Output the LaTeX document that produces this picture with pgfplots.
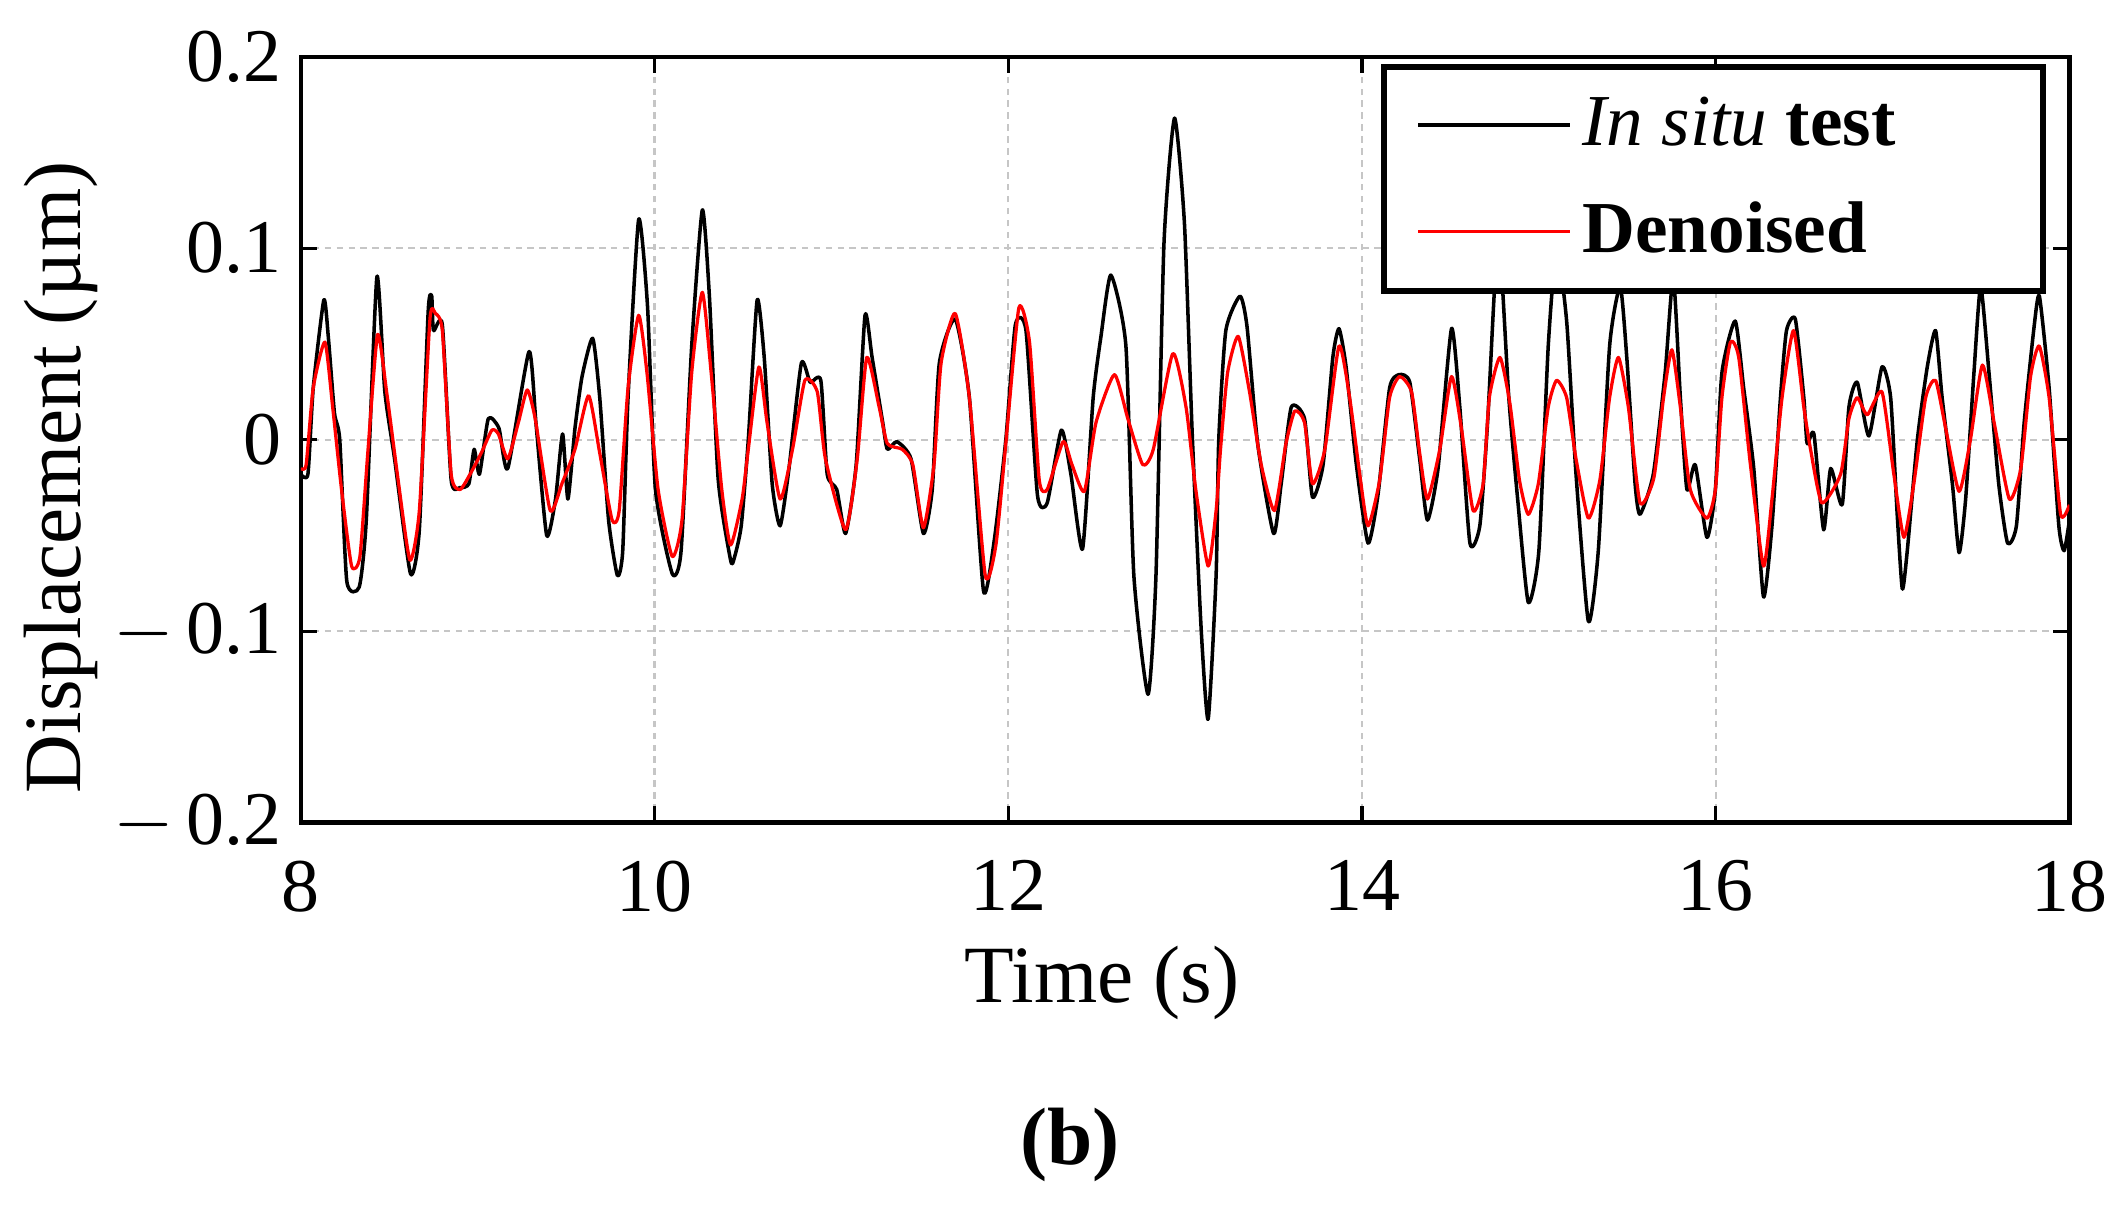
\documentclass[border=0pt]{standalone}
\usepackage{fontspec}
\setmainfont{Liberation Serif}
\usepackage{pgfplots}
\pgfplotsset{compat=1.18}
\begin{document}
\begin{tikzpicture}
\begin{axis}[
  scale only axis,
  width=326.25pt, height=141.25pt,
  xmin=8, xmax=18, ymin=-0.2, ymax=0.2,
  xtick={8,10,12,14,16,18},
  xticklabels={8,10,12,14,16,18},
  ytick={-0.2,-0.1,0,0.1,0.2},
  yticklabels={$-$\,0.2,$-$\,0.1,0,0.1,0.2},
  tick label style={font=\fontsize{14}{16}\selectfont},
  xticklabel style={yshift=-3.5pt},
  major tick length=3pt,
  tick align=inside,
  tick style={black, line width=0.6pt},
  axis line style={line width=0.8pt},
  grid=major,
  grid style={gray!45, line width=0.4pt, dash pattern=on 1.2pt off 1pt},
  xlabel={Time (s)},
  ylabel={Displacement (µm)},
  label style={font=\fontsize{15}{17}\selectfont},
  xlabel style={at={(axis description cs:0.453,-0.209)}, anchor=center},
  ylabel style={at={(axis description cs:-0.1356,0.451)}, anchor=center, rotate=0},
  legend image code/.code={\draw[#1, line width=0.6pt] (0pt,0pt) -- (28pt,0pt);},
  legend style={at={(0.987,0.991)}, anchor=north east, draw=black, line width=1.2pt,
    inner xsep=6pt, inner ysep=3.5pt, row sep=5pt, fill=white,
    font=\fontsize{13.5}{15}\selectfont, cells={anchor=west}},
]
\addplot[black, line width=0.65pt, line join=round, smooth, tension=0.35] coordinates {
(8.00,-0.018)(8.04,-0.018)(8.07,0.027)(8.13,0.073)(8.155,0.054)(8.19,0.014)(8.22,0.000)
(8.26,-0.074)(8.33,-0.077)(8.37,-0.042)(8.43,0.085)(8.475,0.025)(8.53,-0.010)(8.62,-0.070)
(8.67,-0.047)(8.72,0.067)(8.74,0.075)(8.75,0.057)(8.80,0.060)(8.85,-0.021)(8.90,-0.025)
(8.95,-0.023)(8.98,-0.005)(9.01,-0.018)(9.06,0.011)(9.12,0.006)(9.17,-0.015)(9.29,0.046)
(9.33,0.008)(9.39,-0.050)(9.44,-0.031)(9.48,0.003)(9.51,-0.031)(9.55,0.006)(9.59,0.033)
(9.65,0.053)(9.69,0.022)(9.74,-0.042)(9.79,-0.071)(9.82,-0.058)(9.85,0.022)(9.91,0.115)
(9.96,0.070)(10.005,-0.026)(10.10,-0.070)(10.15,-0.058)(10.21,0.049)(10.27,0.120)(10.31,0.075)
(10.36,-0.021)(10.43,-0.063)(10.45,-0.062)(10.49,-0.045)(10.53,0.000)(10.58,0.073)(10.62,0.043)
(10.665,-0.023)(10.71,-0.045)(10.76,-0.015)(10.83,0.040)(10.88,0.030)(10.94,0.031)(10.976,-0.018)
(11.03,-0.026)(11.08,-0.049)(11.14,-0.013)(11.19,0.065)(11.23,0.043)(11.29,0.009)(11.316,-0.005)
(11.37,-0.001)(11.45,-0.010)(11.52,-0.049)(11.57,-0.026)(11.61,0.040)(11.70,0.063)(11.78,0.022)
(11.86,-0.079)(11.92,-0.053)(11.986,0.000)(12.04,0.060)(12.10,0.057)(12.165,-0.029)(12.22,-0.033)
(12.30,0.005)(12.354,-0.018)(12.42,-0.057)(12.48,0.022)(12.524,0.054)(12.58,0.086)(12.665,0.049)
(12.71,-0.071)(12.79,-0.133)(12.835,-0.071)(12.88,0.102)(12.94,0.168)(12.996,0.113)(13.04,0.003)
(13.09,-0.098)(13.13,-0.146)(13.175,-0.071)(13.19,0.000)(13.23,0.057)(13.31,0.075)(13.35,0.059)
(13.41,-0.002)(13.50,-0.049)(13.543,-0.023)(13.60,0.017)(13.675,0.011)(13.72,-0.030)(13.78,-0.013)
(13.835,0.043)(13.87,0.058)(13.91,0.038)(13.968,-0.013)(14.034,-0.054)(14.09,-0.029)(14.156,0.027)
(14.21,0.034)(14.27,0.030)(14.326,-0.010)(14.37,-0.042)(14.43,-0.015)(14.506,0.058)(14.553,0.017)
(14.61,-0.054)(14.666,-0.045)(14.71,0.009)(14.75,0.080)(14.78,0.100)(14.83,0.022)(14.88,-0.031)
(14.94,-0.085)(15.00,-0.058)(15.053,0.049)(15.10,0.100)(15.157,0.062)(15.21,-0.018)(15.28,-0.095)
(15.336,-0.058)(15.40,0.049)(15.46,0.080)(15.497,0.043)(15.544,-0.023)(15.572,-0.039)(15.647,-0.018)
(15.714,0.035)(15.76,0.085)(15.80,0.022)(15.837,-0.026)(15.884,-0.013)(15.95,-0.051)(15.998,-0.026)
(16.035,0.035)(16.11,0.062)(16.158,0.027)(16.215,-0.015)(16.27,-0.082)(16.318,-0.045)(16.366,0.022)
(16.40,0.057)(16.45,0.063)(16.498,0.022)(16.517,-0.002)(16.555,0.003)(16.61,-0.047)(16.65,-0.015)
(16.715,-0.034)(16.753,0.017)(16.80,0.030)(16.866,0.002)(16.94,0.038)(16.989,0.022)(17.026,-0.039)
(17.055,-0.078)(17.083,-0.058)(17.14,0.000)(17.196,0.038)(17.243,0.057)(17.28,0.022)(17.338,-0.023)
(17.376,-0.059)(17.413,-0.031)(17.46,0.035)(17.498,0.080)(17.545,0.035)(17.60,-0.023)(17.65,-0.054)
(17.70,-0.045)(17.744,0.009)(17.80,0.059)(17.83,0.075)(17.885,0.027)(17.94,-0.045)(17.97,-0.058)
(18.00,-0.042)
};
\addlegendentry{\makebox[77pt][l]{\textit{In situ} \textbf{test}}}
\addplot[red, line width=0.6pt, line join=round, smooth, tension=0.35] coordinates {
(8.00,-0.015)(8.03,-0.013)(8.07,0.027)(8.136,0.051)(8.18,0.017)(8.23,-0.026)(8.287,-0.066)
(8.334,-0.061)(8.38,-0.005)(8.434,0.055)(8.485,0.025)(8.55,-0.021)(8.617,-0.063)(8.67,-0.037)
(8.73,0.063)(8.76,0.066)(8.80,0.057)(8.85,-0.018)(8.90,-0.026)(8.957,-0.018)(9.02,-0.007)
(9.08,0.005)(9.117,0.003)(9.17,-0.010)(9.23,0.009)(9.28,0.026)(9.325,0.011)(9.41,-0.037)
(9.476,-0.023)(9.55,-0.005)(9.627,0.023)(9.69,-0.007)(9.76,-0.042)(9.80,-0.037)(9.85,0.027)
(9.91,0.065)(9.957,0.035)(10.02,-0.026)(10.10,-0.061)(10.155,-0.042)(10.21,0.035)(10.27,0.077)
(10.32,0.035)(10.38,-0.026)(10.43,-0.055)(10.495,-0.031)(10.53,-0.005)(10.59,0.038)(10.636,0.009)
(10.71,-0.031)(10.78,-0.005)(10.85,0.031)(10.92,0.025)(10.966,-0.010)(11.08,-0.047)(11.146,-0.010)
(11.20,0.043)(11.27,0.017)(11.316,-0.002)(11.40,-0.005)(11.46,-0.013)(11.52,-0.046)(11.58,-0.013)
(11.62,0.040)(11.70,0.066)(11.78,0.022)(11.87,-0.071)(11.93,-0.055)(11.986,-0.002)(12.06,0.069)
(12.12,0.051)(12.175,-0.021)(12.22,-0.026)(12.31,-0.001)(12.36,-0.013)(12.43,-0.027)(12.496,0.009)
(12.60,0.034)(12.676,0.011)(12.76,-0.013)(12.82,-0.005)(12.93,0.045)(13.005,0.017)(13.06,-0.026)
(13.13,-0.066)(13.175,-0.037)(13.20,-0.005)(13.24,0.035)(13.30,0.054)(13.364,0.025)(13.43,-0.013)
(13.505,-0.037)(13.57,-0.002)(13.62,0.015)(13.675,0.009)(13.72,-0.023)(13.79,-0.005)(13.87,0.049)
(13.93,0.022)(13.987,-0.018)(14.034,-0.045)(14.10,-0.021)(14.156,0.022)(14.213,0.033)(14.28,0.025)
(14.326,-0.007)(14.37,-0.031)(14.44,-0.005)(14.506,0.033)(14.562,0.006)(14.628,-0.037)(14.685,-0.023)
(14.72,0.022)(14.78,0.043)(14.836,0.019)(14.89,-0.021)(14.94,-0.039)(14.997,-0.023)(15.053,0.017)
(15.10,0.031)(15.157,0.022)(15.21,-0.010)(15.28,-0.041)(15.345,-0.021)(15.40,0.022)(15.45,0.043)
(15.506,0.017)(15.572,-0.033)(15.65,-0.020)(15.705,0.022)(15.752,0.047)(15.80,0.017)(15.856,-0.026)
(15.95,-0.041)(15.998,-0.026)(16.035,0.022)(16.083,0.051)(16.13,0.043)(16.196,-0.013)(16.27,-0.066)
(16.318,-0.031)(16.375,0.022)(16.44,0.057)(16.498,0.017)(16.536,-0.005)(16.60,-0.033)(16.706,-0.018)
(16.753,0.011)(16.80,0.022)(16.857,0.013)(16.94,0.025)(17.007,-0.018)(17.064,-0.051)(17.12,-0.023)
(17.187,0.022)(17.243,0.031)(17.30,0.006)(17.376,-0.027)(17.44,0.000)(17.508,0.039)(17.574,0.009)
(17.66,-0.031)(17.725,-0.015)(17.78,0.033)(17.829,0.049)(17.885,0.022)(17.95,-0.039)(18.00,-0.034)
};
\addlegendentry{\makebox[77pt][l]{\textbf{Denoised}}}
\coordinate (bl) at (axis description cs:-0.1701,-0.5115);
\coordinate (tr) at (axis description cs:1.0314,1.0743);
\coordinate (bpos) at (axis description cs:0.435,-0.421);
\end{axis}
\node[font=\fontsize{15}{17}\selectfont\bfseries] at (bpos) {(b)};
\pgfresetboundingbox
\path[use as bounding box] (bl) rectangle (tr);
\end{tikzpicture}
\end{document}
